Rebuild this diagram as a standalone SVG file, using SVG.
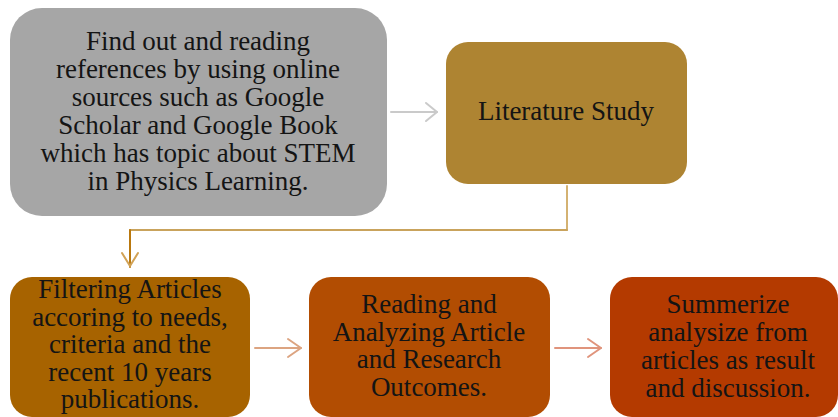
<svg xmlns="http://www.w3.org/2000/svg" width="838" height="417" viewBox="0 0 838 417">
<style>
.t{font-size:27px;fill:#141414;text-anchor:middle}
.c{fill:none;stroke-width:2;stroke-linecap:round;stroke-linejoin:round}
</style>
<rect width="838" height="417" fill="#ffffff"/>
<g id="connectors">
<path class="c" d="M391 112H437" stroke="#cacaca"/>
<path class="c" d="M426 103L437 112L426 121" stroke="#cacaca"/>
<path class="c" d="M567 186V230" stroke="#d4b272"/>
<path class="c" d="M567 230H130" stroke="#c9a35c"/>
<path class="c" d="M130 230V267" stroke="#b9780e"/>
<path class="c" d="M122 253L130 266L138 253" stroke="#d1a256"/>
<path class="c" d="M255 348H301" stroke="#dca481"/>
<path class="c" d="M288 339L301 348L288 357" stroke="#dca481"/>
<path class="c" d="M555 348H601" stroke="#e0947c"/>
<path class="c" d="M588 339L601 348L588 357" stroke="#e0947c"/>
</g>
<g id="node-find">
<rect x="10" y="8" width="377" height="208" rx="32" fill="#a6a6a6"/>
<text class="t" font-family="Liberation Serif, serif"><tspan x="198" y="50">Find out and reading</tspan><tspan x="198" y="78">references by using online</tspan><tspan x="198" y="106">sources such as Google</tspan><tspan x="198" y="134">Scholar and Google Book</tspan><tspan x="198" y="162">which has topic about STEM</tspan><tspan x="198" y="190">in Physics Learning.</tspan></text>
</g>
<g id="node-literature">
<rect x="446" y="42" width="241" height="142" rx="22" fill="#ae8432"/>
<text class="t" font-family="Liberation Serif, serif" x="566" y="120">Literature Study</text>
</g>
<g id="node-filter">
<rect x="10" y="277" width="240" height="140" rx="22" fill="#a76300"/>
<text class="t" font-family="Liberation Serif, serif"><tspan x="130" y="298">Filtering Articles</tspan><tspan x="130" y="325.5">accoring to needs,</tspan><tspan x="130" y="353">criteria and the</tspan><tspan x="130" y="380.5">recent 10 years</tspan><tspan x="130" y="408">publications.</tspan></text>
</g>
<g id="node-reading">
<rect x="309" y="277" width="241" height="140" rx="22" fill="#b24d02"/>
<text class="t" font-family="Liberation Serif, serif"><tspan x="429" y="313">Reading and</tspan><tspan x="429" y="340.5">Analyzing Article</tspan><tspan x="429" y="368">and Research</tspan><tspan x="429" y="395.5">Outcomes.</tspan></text>
</g>
<g id="node-summerize">
<rect x="610" y="277" width="228" height="140" rx="22" fill="#b43a00"/>
<text class="t" font-family="Liberation Serif, serif"><tspan x="728" y="313">Summerize</tspan><tspan x="728" y="341">analysize from</tspan><tspan x="728" y="369">articles as result</tspan><tspan x="728" y="397">and discussion.</tspan></text>
</g>
</svg>
